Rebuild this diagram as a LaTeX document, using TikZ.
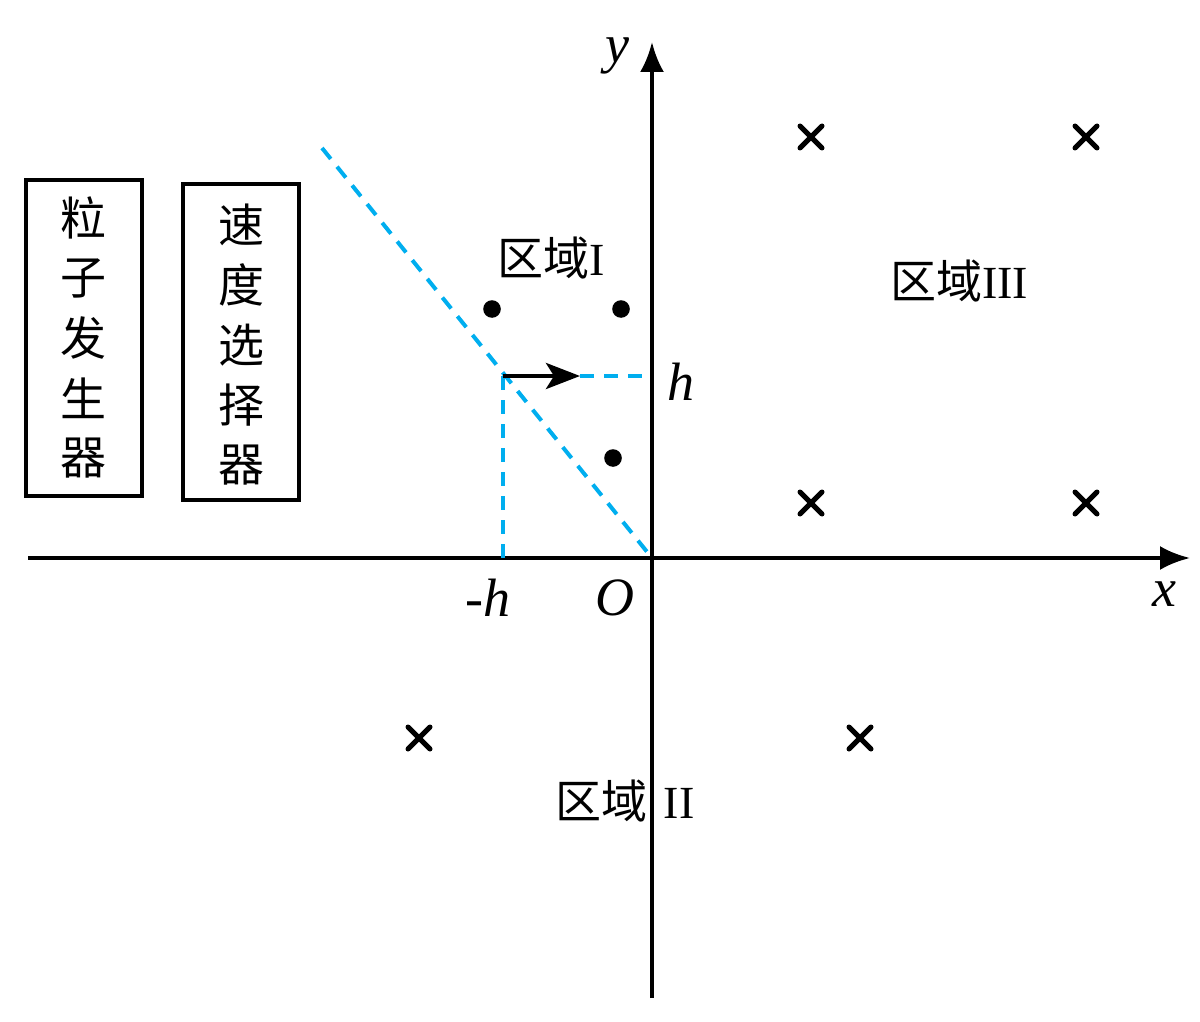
\documentclass[tikz,border=0pt]{standalone}
\usepackage{fontspec}
\setmainfont{Liberation Serif}
\newfontfamily\cjk{Noto Sans CJK SC}
\usetikzlibrary{arrows.meta}
\definecolor{dashblue}{RGB}{0,174,239}
\tikzset{
  axis/.style={line width=2pt, -{Latex[length=15pt,width=12pt]}},
  guide/.style={dashblue, line width=2pt, dash pattern=on 7pt off 5pt},
  box/.style={draw, line width=2.2pt, minimum width=58pt, inner sep=0pt},
  lbl/.style={font=\fontsize{27}{32}\selectfont\itshape},
  region/.style={font=\fontsize{23}{28}\selectfont},
}
\begin{document}
\begin{tikzpicture}[x=0.5pt, y=-0.5pt]
    \useasboundingbox (0,0) rectangle (1200,1022);
    \coordinate (O) at (652,558);
    \coordinate (xstart) at (28,558);
    \coordinate (xend) at (1190,558);
    \coordinate (ystart) at (652,998);
    \coordinate (yend) at (652,42);
    \draw[axis] (xstart) -- (xend);
    \draw[axis] (ystart) -- (yend);
    % boundary and guides
    \coordinate (top) at (322,148);
    \coordinate (P) at (503,376);
    \coordinate (mh) at (503,558);
    \coordinate (tip) at (580,376);
    \coordinate (hy) at (650,376);
    \draw[guide] (top) -- (O);
    \draw[guide] (P) -- (mh);
    \draw[guide] (tip) -- (hy);
    \draw[line width=2.2pt, -{Stealth[length=17pt,width=13pt,inset=4pt]}] (P) -- (tip);
    % field symbols
    \foreach \px/\py in {492/309, 621/309, 613/458}
        \fill (\px,\py) circle (4.4pt);
    \foreach \px/\py in {811/137, 1086/137, 811/503, 1086/503, 419/738, 860/738}
        \draw[line width=2.5pt, line cap=round] (\px-11,\py-11) -- (\px+11,\py+11)
            (\px-11,\py+11) -- (\px+11,\py-11);
    % devices
    \node[box, minimum height=158pt] (gen) at (84,338) {};
    \node[box, minimum height=158pt] (sel) at (241,342) {};
    \foreach \ch [count=\i] in {粒,子,发,生,器}
        \node[region, inner sep=0pt] (gen\i) at (84,218+60*\i-60) {\cjk \ch};
    \foreach \ch [count=\i] in {速,度,选,择,器}
        \node[region, inner sep=0pt] (sel\i) at (241,225+60*\i-60) {\cjk \ch};
    % labels
    \node[region, inner sep=0pt] (r1) at (551,258) {{\cjk 区域}I};
    \node[region, inner sep=0pt] (r3) at (959,281) {{\cjk 区域}III};
    \node[region, inner sep=0pt] (r2) at (625,801) {{\cjk 区域}\hspace{8pt}II};
    \node[lbl] (ylbl) at (617,56) {y};
    \node[lbl] (xlbl) at (1164,594) {x};
    \node[lbl] (hlbl) at (681,382) {h};
    \node[lbl] (mhlbl) at (488,598) {\upshape-\itshape h};
    \node[lbl] (Olbl) at (615,598) {O};
\end{tikzpicture}
\end{document}
